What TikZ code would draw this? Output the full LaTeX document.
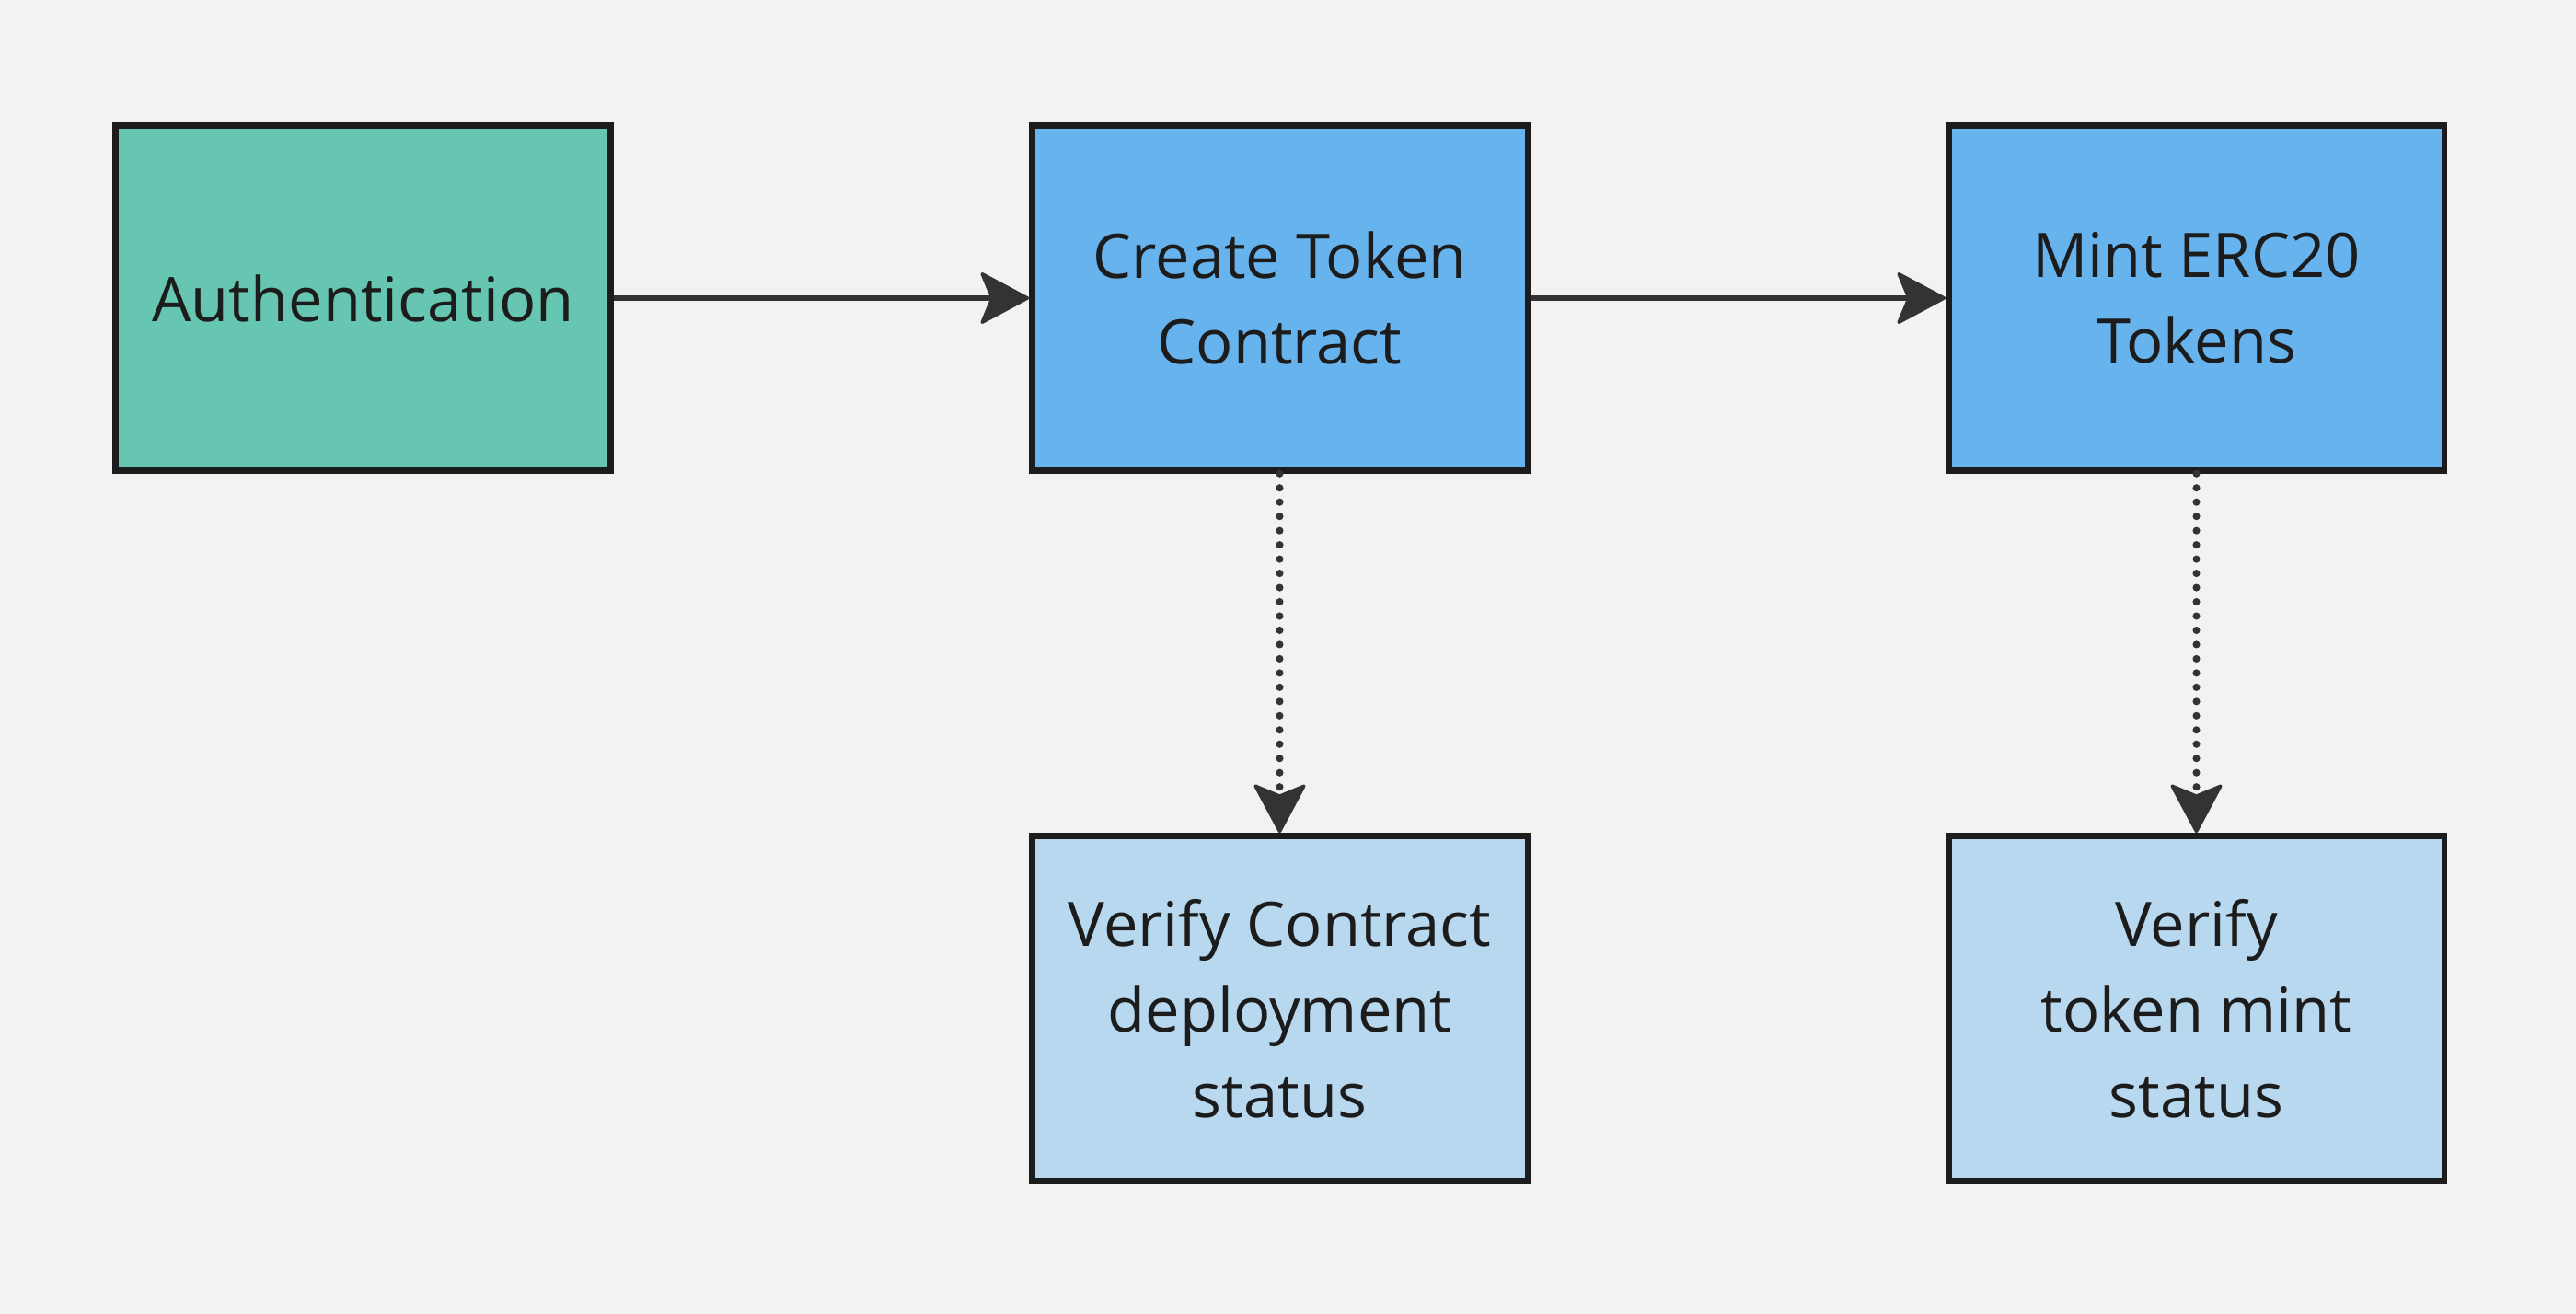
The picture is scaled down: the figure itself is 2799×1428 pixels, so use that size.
\documentclass[tikz,border=0pt]{standalone}
\usepackage{fontspec}
\setmainfont{Open Sans}
\usetikzlibrary{arrows.meta}
\definecolor{bgc}{HTML}{F2F2F0}
\definecolor{greenc}{HTML}{67C6B1}
\definecolor{bluec}{HTML}{67B3EE}
\definecolor{lightc}{HTML}{B8D8F0}
\definecolor{borderc}{HTML}{1C1C1C}
\definecolor{arrowc}{HTML}{333333}
\tikzset{
  px/.style={x=0.01cm,y=-0.01cm},
  box/.style={draw=borderc, line width=1.8pt, minimum width=5.38cm, minimum height=3.75cm,
    align=center, text=borderc, inner sep=0pt,
    font=\fontsize{19}{26.5}\selectfont},
  tip/.style={-{Stealth[length=16pt,width=17pt,inset=3.5pt,round,line width=1pt]}},
  flow/.style={draw=arrowc, line width=1.7pt, tip},
  dotflow/.style={draw=arrowc, line width=2.3pt, line cap=round, dash pattern=on 0pt off 4.4pt, tip},
}
\begin{document}
\begin{tikzpicture}[px]
\fill[bgc] (0,0) rectangle (2799,1428);
\useasboundingbox (0,0) rectangle (2799,1428);
\node[box, fill=greenc] (auth) at (394.5,324) {Authentication};
\node[box, fill=bluec] (create) at (1390.5,324) {Create Token\\Contract};
\node[box, fill=bluec] (mint) at (2386.5,324) {Mint ERC20\\Tokens};
\node[box, fill=lightc] (vc) at (1390.5,1096) {Verify Contract\\deployment\\status};
\node[box, fill=lightc] (vm) at (2386.5,1096) {Verify\\token mint\\status};
\draw[flow] (auth.east) -- (create.west);
\draw[flow] (create.east) -- (mint.west);
\draw[dotflow] (create.south) -- (vc.north);
\draw[dotflow] (mint.south) -- (vm.north);
\end{tikzpicture}
\end{document}
